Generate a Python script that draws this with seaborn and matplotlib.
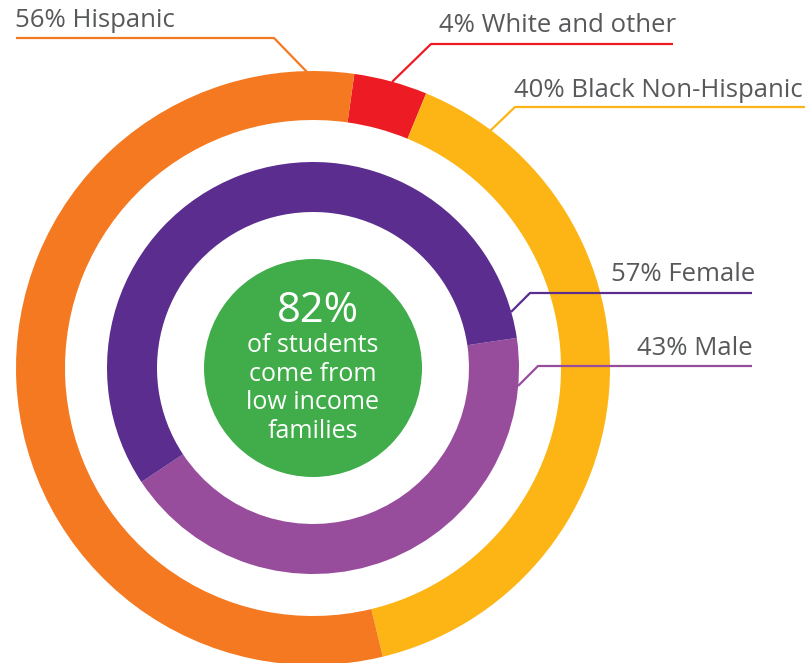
import matplotlib
matplotlib.use("Agg")
import matplotlib.pyplot as plt
import seaborn as sns

# outer ring: ethnicity (clockwise from the top-right)
race_labels = ["4% White and other", "40% Black Non-Hispanic", "56% Hispanic"]
race_values = [4, 40, 56]
race_colors = ["#ED1C24", "#FDB515", "#F47920"]

# inner ring: gender (clockwise from the right)
gender_labels = ["43% Male", "57% Female"]
gender_values = [43, 57]
gender_colors = ["#974C9C", "#5A2D8E"]

center_big = "82%"
center_lines = ["of students", "come from", "low income", "families"]

sns.set_theme(style="white")
plt.rcParams['font.family'] = ['Open Sans', 'DejaVu Sans']

W, H = 809, 663
fig = plt.figure(figsize=(W / 100, H / 100), dpi=100)
ax = fig.add_axes([0, 0, 1, 1])
ax.set_xlim(0, W)
ax.set_ylim(0, H)
ax.axis('off')


def P(x, y):
    # pixel coords (top-left origin) -> axes data coords
    return x, H - y


cx, cy = P(313, 368)

ax.pie(race_values, colors=race_colors, radius=297, center=(cx, cy),
       startangle=82, counterclock=False,
       wedgeprops=dict(width=49, linewidth=0))
ax.pie(gender_values, colors=gender_colors, radius=206, center=(cx, cy),
       startangle=8.4, counterclock=False,
       wedgeprops=dict(width=50, linewidth=0))
ax.add_patch(plt.Circle((cx, cy), 109, color="#41AD4A", lw=0))
ax.set_xlim(0, W)
ax.set_ylim(0, H)
ax.set_aspect('equal')

txt = "#58595B"
fs = 18.5

# leader lines + labels: (label, color, text xy, ha, polyline)
callouts = [
    (race_labels[2], race_colors[2], (15, 27), 'left',
     [(16, 38), (274, 38), (307, 72)]),
    (race_labels[0], race_colors[0], (439, 32), 'left',
     [(673, 44), (431, 44), (392, 82)]),
    (race_labels[1], race_colors[1], (514, 97), 'left',
     [(805, 107), (515, 107), (490, 131)]),
    (gender_labels[1], gender_colors[1], (755, 281), 'right',
     [(752, 293), (530, 293), (511, 312)]),
    (gender_labels[0], gender_colors[0], (753, 355), 'right',
     [(752, 366), (538, 366), (518, 386)]),
]
for label, col, (tx, ty), ha, pts in callouts:
    xs, ys = zip(*[P(px, py) for px, py in pts])
    ax.plot(xs, ys, color=col, lw=1.6, solid_capstyle='butt')
    ax.text(*P(tx, ty), label, ha=ha, va='baseline', fontsize=fs,
            color=txt, fontweight='normal')

ax.text(*P(318, 322), center_big, ha='center', va='baseline',
        fontsize=30, color='white', fontweight='normal')
for i, line in enumerate(center_lines):
    ax.text(*P(313, 352 + i * 28.7), line, ha='center', va='baseline',
            fontsize=18, color='white', fontweight='normal')

fig.savefig("out.png", dpi=100, facecolor='white')
